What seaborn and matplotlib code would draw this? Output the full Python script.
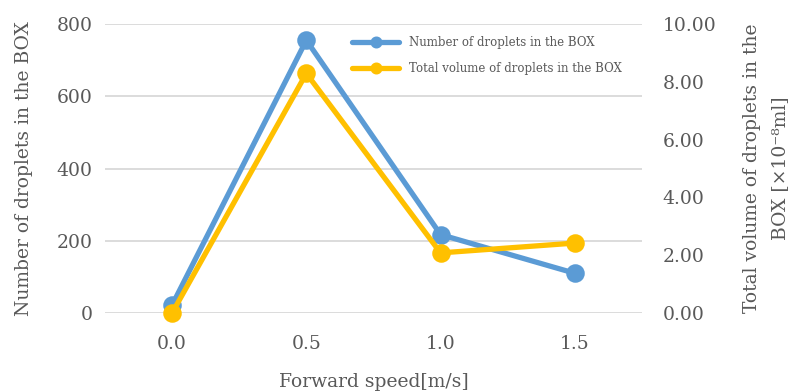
import matplotlib
matplotlib.use("Agg")
import matplotlib.pyplot as plt
import seaborn as sns
import pandas as pd

speeds = ["0.0", "0.5", "1.0", "1.5"]
droplet_count = [22, 755, 217, 110]
droplet_volume = [0.0, 8.29, 2.08, 2.42]

count_label = "Number of droplets in the BOX"
volume_label = "Total volume of droplets in the BOX"

sns.set_theme(style="white")
plt.rcParams["font.family"] = ["DejaVu Serif"]

text_color = "#595959"
blue = "#5B9BD5"
gold = "#FFC000"

df = pd.DataFrame({"speed": speeds, "count": droplet_count, "volume": droplet_volume})

fig = plt.figure(figsize=(7.97, 3.92), dpi=100)
ax = fig.add_axes([0.1317, 0.2015, 0.6738, 0.7373])
ax2 = ax.twinx()

sns.pointplot(data=df, x="speed", y="count", ax=ax, color=blue, markers="o",
              linestyles="-", markersize=10.5, linewidth=3.8, label=count_label, zorder=3)
sns.pointplot(data=df, x="speed", y="volume", ax=ax2, color=gold, markers="o",
              linestyles="-", markersize=10.5, linewidth=3.8, label=volume_label, zorder=3)

# keep markers sitting on the zero line fully visible
for a in (ax, ax2):
    for ln in a.lines:
        ln.set_clip_on(False)

ax.set_xlim(-0.5, 3.5)
ax.set_ylim(0, 800)
ax.set_yticks([0, 200, 400, 600, 800])
ax2.set_ylim(0, 10)
ax2.set_yticks([0, 2, 4, 6, 8, 10])
ax2.set_yticklabels([f"{v:.2f}" for v in [0, 2, 4, 6, 8, 10]])

ax.yaxis.grid(True, color="#D9D9D9", linewidth=1.3)
ax.set_axisbelow(True)
for a in (ax, ax2):
    for s in a.spines.values():
        s.set_visible(False)
    a.tick_params(axis="both", length=0, labelsize=13.5, labelcolor=text_color, pad=9)
ax2.tick_params(axis="y", pad=15)
ax.tick_params(axis="x", pad=16)

ax.set_xlabel("Forward speed[m/s]", fontsize=13.5, color=text_color, labelpad=14)
ax.set_ylabel(count_label, fontsize=13.5, color=text_color, labelpad=17)
ax2.set_ylabel("Total volume of droplets in the\nBOX [×10⁻⁸ml]", fontsize=13.5,
               color=text_color, labelpad=19, linespacing=1.75)
ax2.yaxis.set_label_position("right")

h1, l1 = ax.get_legend_handles_labels()
h2, l2 = ax2.get_legend_handles_labels()
if ax.get_legend():
    ax.get_legend().remove()
if ax2.get_legend():
    ax2.get_legend().remove()
leg = ax2.legend(h1 + h2, l1 + l2, loc="upper left", bbox_to_anchor=(0.46, 0.958),
                 borderaxespad=0, borderpad=0, frameon=False, fontsize=8.5,
                 labelcolor=text_color, handlelength=4.0, handletextpad=0.85,
                 labelspacing=1.1, markerscale=0.55)

fig.savefig("out.png", dpi=100)
